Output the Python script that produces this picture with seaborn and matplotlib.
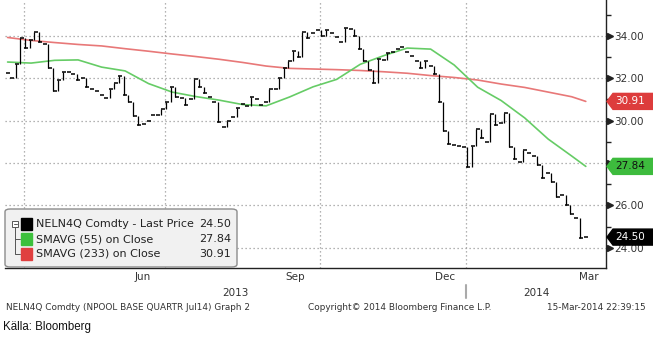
import numpy as np
import pandas as pd
import matplotlib
matplotlib.use("Agg")
import matplotlib.pyplot as plt
import seaborn as sns
from matplotlib import font_manager
from matplotlib.patches import Polygon, FancyBboxPatch, Rectangle
from matplotlib.lines import Line2D

# ---------------- data ----------------
holidays = ["2013-03-28", "2013-03-29", "2013-04-01", "2013-05-01", "2013-05-09",
            "2013-05-20", "2013-06-21", "2013-12-24", "2013-12-25", "2013-12-26",
            "2013-12-31", "2014-01-01"]

# closes, every second trading day, ending 14-Mar-2014
price_close = [
    32.25, 32.0, 32.7, 33.9, 33.45, 33.8, 34.2, 33.7, 33.6, 32.5,
    31.4, 31.9, 32.3, 32.3, 32.2, 31.9, 32.0, 31.6, 31.5, 31.4,
    31.2, 31.05, 31.5, 31.8, 32.1, 31.2, 30.9, 30.2, 29.8, 29.85,
    30.0, 30.25, 30.25, 30.55, 30.9, 31.6, 31.1, 31.05, 30.75, 31.0,
    31.95, 31.6, 31.3, 31.1, 30.9, 29.95, 29.7, 30.0, 30.15, 30.6,
    30.8, 30.7, 31.1, 31.0, 30.75, 30.9, 31.5, 31.5, 32.0, 32.5,
    32.8, 33.3, 33.0, 34.2, 33.9, 34.15, 34.3, 34.0, 34.3, 34.15,
    33.95, 33.7, 34.4, 34.35, 34.0, 33.4, 32.8, 32.4, 31.8, 32.9,
    32.85, 33.2, 33.25, 33.4, 33.5, 33.25, 33.05, 32.8, 32.5, 32.8,
    32.6, 32.2, 30.9, 29.5, 28.9, 28.85, 28.8, 28.75, 27.8, 28.8,
    29.6, 29.2, 29.0, 30.3, 29.8, 29.9, 30.35, 28.75, 28.2, 28.05,
    28.6, 28.45, 28.35, 27.9, 27.3, 27.55, 27.1, 26.4, 26.5, 26.0,
    25.6, 25.4, 24.45, 24.50,
]

# moving averages, sampled every 10th trading day (+ last day)
sma55 = [32.77, 32.72, 32.85, 32.87, 32.53, 32.35, 31.75, 31.35, 31.14, 30.97,
         30.76, 30.70, 31.12, 31.60, 31.95, 32.66, 33.07, 33.43, 33.38, 32.63,
         31.58, 30.95, 30.13, 29.13, 28.33, 27.84]
sma233 = [33.93, 33.79, 33.69, 33.60, 33.53, 33.40, 33.28, 33.15, 33.03, 32.90,
          32.75, 32.58, 32.47, 32.44, 32.41, 32.37, 32.31, 32.24, 32.13, 32.04,
          31.92, 31.73, 31.57, 31.35, 31.13, 30.91]

last_price = 24.50
last_sma55 = 27.84
last_sma233 = 30.91

y_major = [24, 26, 28, 30, 32, 34]
y_minor = [25, 27, 29, 31, 33, 35]
month_labels = [("Jun", "2013-06"), ("Sep", "2013-09"), ("Dec", "2013-12"), ("Mar", "2014-03")]
year_labels = ["2013", "2014"]
legend_rows = [("NELN4Q Comdty - Last Price", last_price),
               ("SMAVG (55) on Close", last_sma55),
               ("SMAVG (233) on Close", last_sma233)]

C_PRICE = "#000000"
C_GREEN = "#66cc66"
C_RED = "#e87878"
TAG_GREEN = "#3dbb3d"
TAG_RED = "#dd3c3c"

# ---------------- trading-day axis ----------------
tdays = pd.bdate_range("2013-03-15", "2014-03-14", freq="C", holidays=holidays)
origin = tdays.get_indexer([pd.Timestamp("2013-04-02")])[0]
tidx = pd.Series(np.arange(len(tdays)) - origin, index=tdays)

price_dates = tdays[::-1][::2][::-1][-len(price_close):]
px = tidx[price_dates].values.astype(float)
sma_dates = list(price_dates[::5][:len(sma55) - 1]) + [price_dates[-1]]
sx = tidx[sma_dates].values.astype(float)

months = pd.date_range("2013-04-01", "2014-03-01", freq="MS")
month_start = {}
for m in months:
    sel = tdays[(tdays >= m)]
    month_start[m.strftime("%Y-%m")] = float(tidx[sel[0]])
month_start["2014-04"] = float(tidx[tdays[-1]]) + 12

# ---------------- figure ----------------
W, H = 653, 339
sns.set_theme(style="white")
plt.rcParams["font.family"] = ["DejaVu Sans"]
fig = plt.figure(figsize=(W / 100, H / 100), dpi=100)
fig.patch.set_facecolor("white")

def fx(x):
    return x / W

def fy(y):
    return 1 - y / H

ax = fig.add_axes([fx(5), fy(268), 601 / W, 268 / H])
ax.set_facecolor("white")
ax.set_xlim(-8.1, 247.6)
ax.set_ylim(23.04, 35.70)

# grid
for v in y_major:
    ax.axhline(v, color="#9a9a9a", lw=0.9, ls=(0, (1, 2.2)), zorder=1)
for key in ["2013-04", "2013-07", "2013-10", "2014-01"]:
    ax.axvline(month_start[key], color="#9a9a9a", lw=0.9, ls=(0, (1, 2.2)), zorder=1)

# moving averages
sns.lineplot(x=sx, y=sma233, ax=ax, color=C_RED, lw=1.2, zorder=3)
sns.lineplot(x=sx, y=sma55, ax=ax, color=C_GREEN, lw=1.2, zorder=3)

# price dashes + step connectors
pc = np.array(price_close)
jump = np.abs(np.diff(pc)) > 0.25
ax.vlines(px[1:][jump] - 0.6, pc[:-1][jump], pc[1:][jump], color=C_PRICE, lw=0.9, zorder=4)
sns.scatterplot(x=px, y=pc, ax=ax, marker="_", s=9, linewidth=1.1, color=C_PRICE, zorder=5)

# spines
for s in ["left", "top"]:
    ax.spines[s].set_visible(False)
for s in ["right", "bottom"]:
    ax.spines[s].set_visible(True)
    ax.spines[s].set_color("#222222")
    ax.spines[s].set_linewidth(1.0)

# y axis on the right (28.00 is hidden under the 27.84 tag in the original)
ax.yaxis.tick_right()
ax.set_yticks(y_major)
ax.set_yticklabels(["" if v == 28 else f"{v:.2f}" for v in y_major])
ax.set_yticks(y_minor, minor=True)
ax.tick_params(axis="y", which="major", length=0, pad=6, labelsize=7.5, labelcolor="#333333")
ax.tick_params(axis="y", which="minor", length=3.5, width=1.0, color="#222222", direction="out")
ytr = ax.get_yaxis_transform()
ax.plot([1.0 + 3.5 / 601] * len(y_major), y_major, ls="none", marker=">", ms=4.5,
        color="#222222", transform=ytr, clip_on=False, zorder=6)

# x axis ticks at month starts
ax.set_xticks([month_start[k] for k in list(month_start)[:-1]])
ax.set_xticklabels([])
ax.tick_params(axis="x", which="major", length=3.5, width=0.9, color="#222222", direction="out")

xtr = ax.get_xaxis_transform()
keys = list(month_start)
for lab, key in month_labels:
    nxt = keys[keys.index(key) + 1]
    mid = (month_start[key] + month_start[nxt]) / 2
    ax.text(mid, -9.5 / 268, lab, transform=xtr, ha="center", va="center",
            fontsize=7.5, color="#333333")

ax.set_xlabel("")
ax.set_ylabel("")

# year labels and separator
fig.text(fx(235), fy(293), year_labels[0], ha="center", va="center", fontsize=7.5, color="#333333")
fig.text(fx(536), fy(293), year_labels[1], ha="center", va="center", fontsize=7.5, color="#333333")
fig.add_artist(Line2D([fx(466), fx(466)], [fy(285), fy(298)], color="#aaaaaa", lw=1.5,
                      transform=fig.transFigure))

# right-hand value tags
fig.canvas.draw()
def tag(value, face, tcolor):
    yc = ax.transData.transform((0, value))[1]
    x0 = ax.transAxes.transform((1, 0))[0] + 1
    pts = [(x0, yc), (x0 + 6, yc + 8), (W, yc + 8), (W, yc - 8), (x0 + 6, yc - 8)]
    poly = Polygon([(p[0] / W, p[1] / H) for p in pts], closed=True, facecolor=face,
                   edgecolor=face, transform=fig.transFigure, zorder=10)
    fig.add_artist(poly)
    fig.text((x0 + 8) / W, yc / H, f"{value:.2f}", ha="left", va="center", fontsize=7.5,
             color=tcolor, zorder=11)

tag(last_sma233, TAG_RED, "white")
tag(last_sma55, TAG_GREEN, "#111111")
tag(last_price, "#000000", "white")

# legend box
box = FancyBboxPatch((fx(5), fy(267)), 232 / W, 58 / H,
                     boxstyle="round,pad=0,rounding_size=0.008",
                     facecolor="#f1f1f1", edgecolor="#8c8c8c", lw=1.0,
                     transform=fig.transFigure, zorder=20)
fig.add_artist(box)
# tree icon
fig.add_artist(Rectangle((fx(12), fy(227)), 6 / W, 6 / H, facecolor="white", edgecolor="#555555",
                         lw=0.7, transform=fig.transFigure, zorder=21))
fig.add_artist(Line2D([fx(13.5), fx(16.5)], [fy(224), fy(224)], color="#555555", lw=0.7,
                      transform=fig.transFigure, zorder=22))
fig.add_artist(Line2D([fx(15), fx(15), fx(20)], [fy(227), fy(254), fy(254)], color="#555555", lw=0.7,
                      transform=fig.transFigure, zorder=21))
fig.add_artist(Line2D([fx(15), fx(20)], [fy(239), fy(239)], color="#555555", lw=0.7,
                      transform=fig.transFigure, zorder=21))
row_y = [224, 239, 254]
sq_cols = ["#000000", "#3cc03c", "#e04040"]
for (label, val), yy, col in zip(legend_rows, row_y, sq_cols):
    fig.add_artist(Rectangle((fx(21), fy(yy + 6)), 11 / W, 12 / H, facecolor=col, edgecolor=col,
                             transform=fig.transFigure, zorder=21))
    fig.text(fx(36), fy(yy), label, ha="left", va="center", fontsize=8, color="#222222", zorder=22)
    fig.text(fx(231), fy(yy), f"{val:.2f}", ha="right", va="center", fontsize=8, color="#222222", zorder=22)

# footer
fig.text(fx(6), fy(308), "NELN4Q Comdty (NPOOL BASE QUARTR Jul14) Graph 2", ha="left", va="center",
         fontsize=6.4, color="#333333")
fig.text(fx(400), fy(308), "Copyright\u00a9 2014 Bloomberg Finance L.P.", ha="center", va="center",
         fontsize=6.4, color="#333333")
fig.text(fx(646), fy(308), "15-Mar-2014 22:39:15", ha="right", va="center",
         fontsize=6.4, color="#333333")

def has_font(name):
    try:
        font_manager.findfont(font_manager.FontProperties(family=name), fallback_to_default=False)
        return True
    except Exception:
        return False

if has_font("Liberation Sans Narrow"):
    src_family, src_size = ["Liberation Sans Narrow", "DejaVu Sans"], 10
else:
    src_family, src_size = ["Liberation Sans", "DejaVu Sans"], 8.3
fig.text(fx(3), fy(327), "Källa: Bloomberg", ha="left", va="center", fontsize=src_size,
         family=src_family, color="#111111")

fig.savefig("out.png", dpi=100, facecolor="white")
